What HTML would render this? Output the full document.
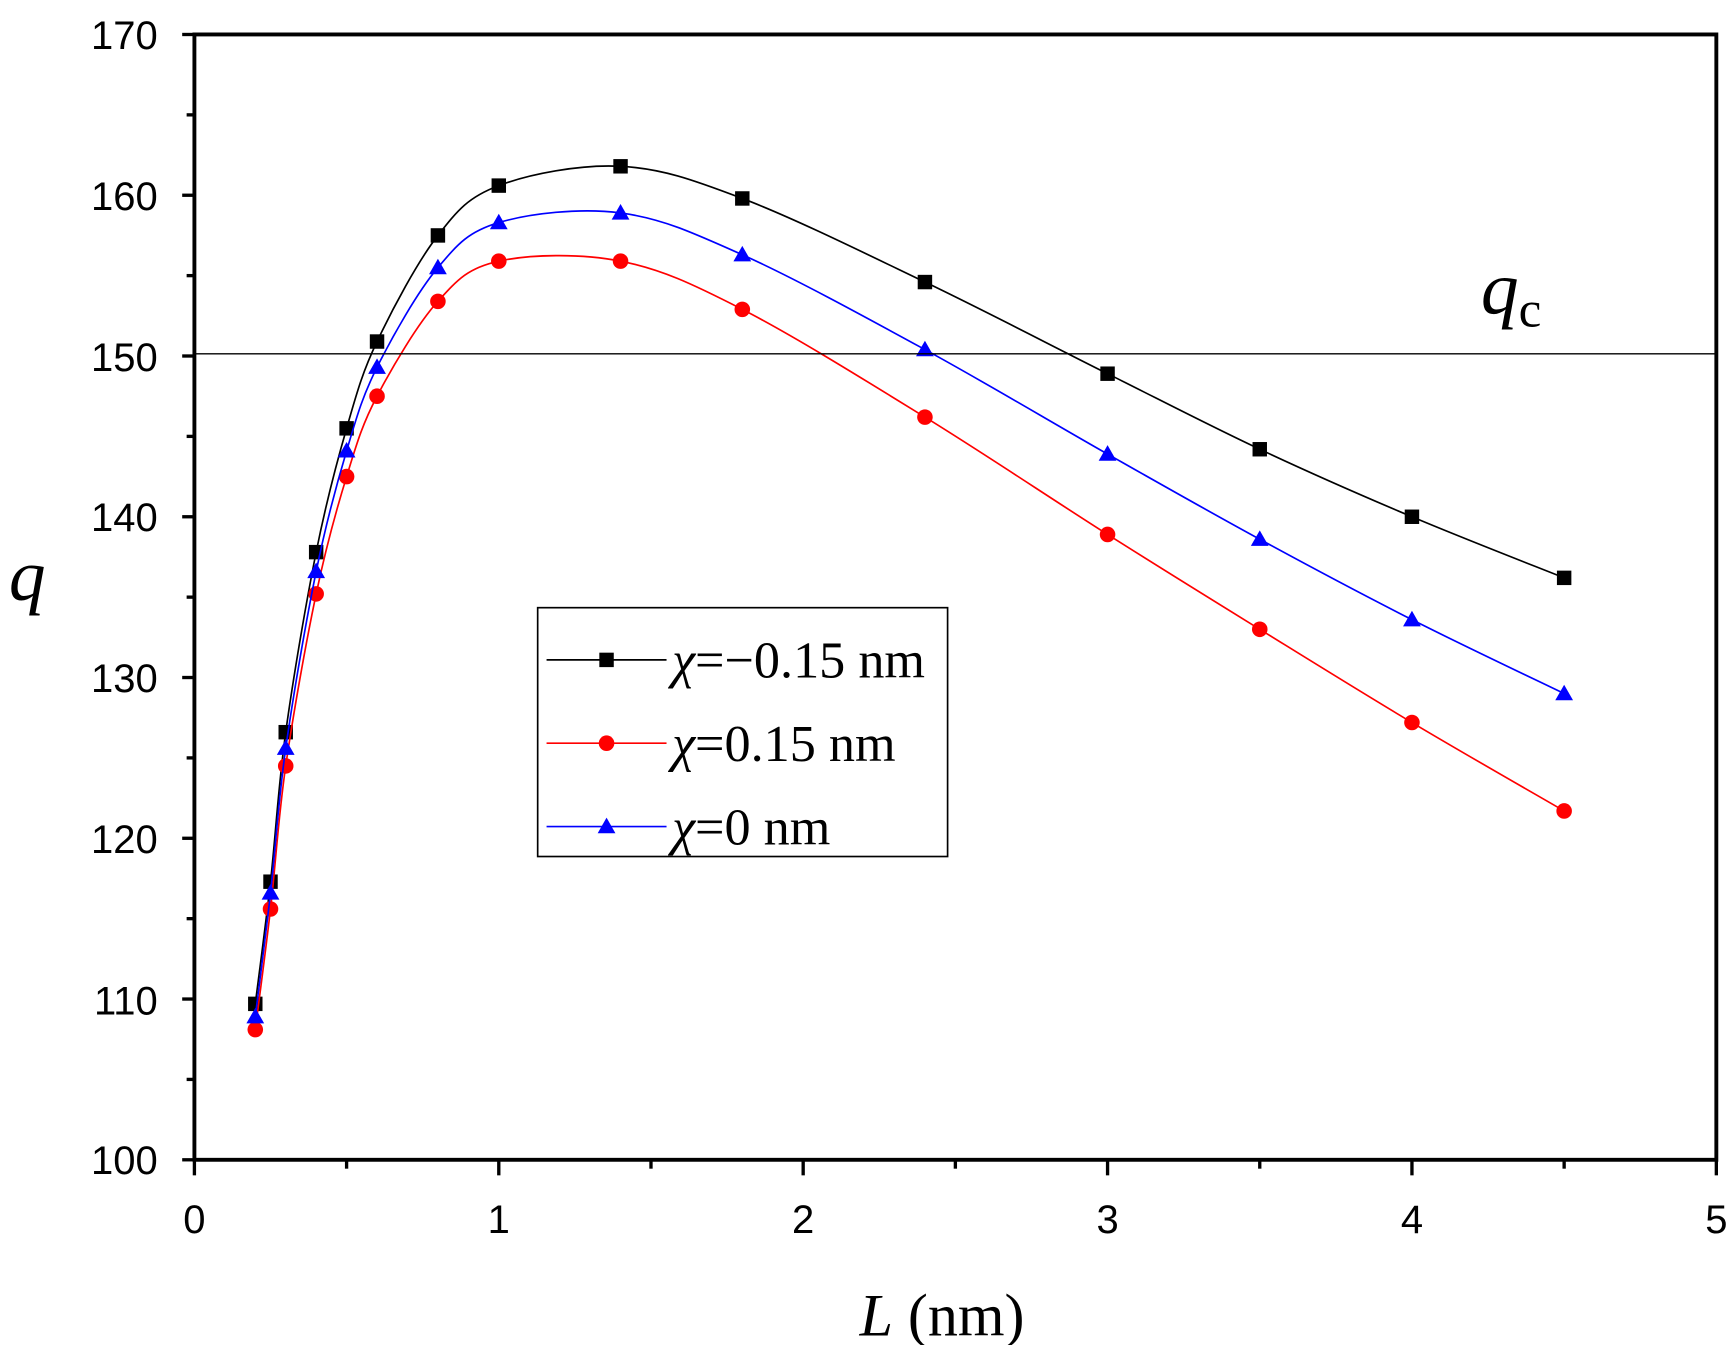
<!DOCTYPE html>
<html><head><meta charset="utf-8"><style>
html,body{margin:0;padding:0;background:#fff;}
svg{display:block;}
.t{font-family:"Liberation Sans",Arial,sans-serif;font-size:36px;}
.s{font-family:"Liberation Serif","Times New Roman",serif;}
</style></head><body>
<svg id="c" width="1733" height="1345" viewBox="0 0 1560 1210.7" xmlns="http://www.w3.org/2000/svg">
<rect width="1560" height="1211" fill="#fff"/>
<g id="ticks" stroke="#000" stroke-width="3"></g>
<g id="series"></g>
<line x1="175" y1="318.5" x2="1545" y2="318.5" stroke="#000" stroke-width="1.2"/>
<rect x="175" y="31" width="1370" height="1013" fill="none" stroke="#000" stroke-width="3.5"/>
<g class="t" text-anchor="end">
<text x="142" y="44">170</text><text x="142" y="189">160</text><text x="142" y="334">150</text>
<text x="142" y="478">140</text><text x="142" y="623">130</text><text x="142" y="768">120</text>
<text x="142" y="913">110</text><text x="142" y="1057">100</text>
</g>
<g class="t" text-anchor="middle">
<text x="175" y="1110">0</text><text x="449" y="1110">1</text><text x="723" y="1110">2</text>
<text x="997" y="1110">3</text><text x="1271" y="1110">4</text><text x="1545" y="1110">5</text>
</g>
<text class="s" x="8" y="540" font-size="66" font-style="italic">q</text>
<text class="s" x="848" y="1202" font-size="54" text-anchor="middle"><tspan font-style="italic">L</tspan> (nm)</text>
<text class="s" x="1333" y="282" font-size="68"><tspan font-style="italic">q</tspan><tspan font-size="46" dy="12">c</tspan></text>
<rect x="484" y="547" width="369" height="224" fill="#fff" stroke="#000" stroke-width="1.5"/>
<g id="leg"></g>
<g class="s" font-size="47">
<text x="605" y="610"><tspan font-style="italic">χ</tspan>=−0.15 nm</text>
<text x="605" y="685"><tspan font-style="italic">χ</tspan>=0.15 nm</text>
<text x="605" y="760"><tspan font-style="italic">χ</tspan>=0 nm</text>
</g>
</svg>
<script>
const NS="http://www.w3.org/2000/svg";
const X=v=>175+274*v, Y=v=>1044-(v-100)*14.471;
function el(p,n,a){const e=document.createElementNS(NS,n);for(const k in a)e.setAttribute(k,a[k]);p.appendChild(e);return e;}
const tk=document.getElementById('ticks');
for(let v=100;v<=170;v+=5){const L=v%10==0?11:7;el(tk,'line',{x1:175-L,x2:175,y1:Y(v),y2:Y(v)});}
for(let v=0;v<=5;v+=0.5){const L=(v%1==0)?14:8;el(tk,'line',{x1:X(v),x2:X(v),y1:1044,y2:1044+L});}
const xs=[0.2,0.25,0.3,0.4,0.5,0.6,0.8,1.0,1.4,1.8,2.4,3.0,3.5,4.0,4.5];
const S=[
 {c:'#000',m:'sq',d:[109.7,117.3,126.6,137.8,145.5,150.9,157.5,160.6,161.8,159.8,154.6,148.9,144.2,140.0,136.2]},
 {c:'#f00',m:'ci',d:[108.1,115.6,124.5,135.2,142.5,147.5,153.4,155.9,155.9,152.9,146.2,138.9,133.0,127.2,121.7]},
 {c:'#00f',m:'tr',d:[108.9,116.6,125.6,136.6,144.1,149.3,155.5,158.3,158.9,156.3,150.4,143.9,138.6,133.6,129.0]}];
const g=document.getElementById('series'),lg=document.getElementById('leg');
function mark(p,t,x,y,c){
 if(t=='sq')el(p,'rect',{x:x-6.5,y:y-6.5,width:13,height:13,fill:c});
 else if(t=='ci')el(p,'circle',{cx:x,cy:y,r:7,fill:c});
 else el(p,'polygon',{points:`${x},${y-8} ${x+8},${y+6} ${x-8},${y+6}`,fill:c});
}
S.forEach((s,i)=>{
 const P=xs.map((x,j)=>[X(x),Y(s.d[j])]);
 let d=`M${P[0][0]},${P[0][1]}`;
 for(let j=0;j<P.length-1;j++){
  const p0=P[Math.max(0,j-1)],p1=P[j],p2=P[j+1],p3=P[Math.min(P.length-1,j+2)];
  const c1=[p1[0]+(p2[0]-p0[0])/6,p1[1]+(p2[1]-p0[1])/6];
  const c2=[p2[0]-(p3[0]-p1[0])/6,p2[1]-(p3[1]-p1[1])/6];
  d+=` C${c1[0]},${c1[1]} ${c2[0]},${c2[1]} ${p2[0]},${p2[1]}`;
 }
 el(g,'path',{d:d,fill:'none',stroke:s.c,'stroke-width':1.5});
 P.forEach(p=>mark(g,s.m,p[0],p[1],s.c));
 const ly=594+75*i;
 el(lg,'line',{x1:492,x2:600,y1:ly,y2:ly,stroke:s.c,'stroke-width':1.5});
 mark(lg,s.m,546,ly,s.c);
});
</script>
</body></html>
